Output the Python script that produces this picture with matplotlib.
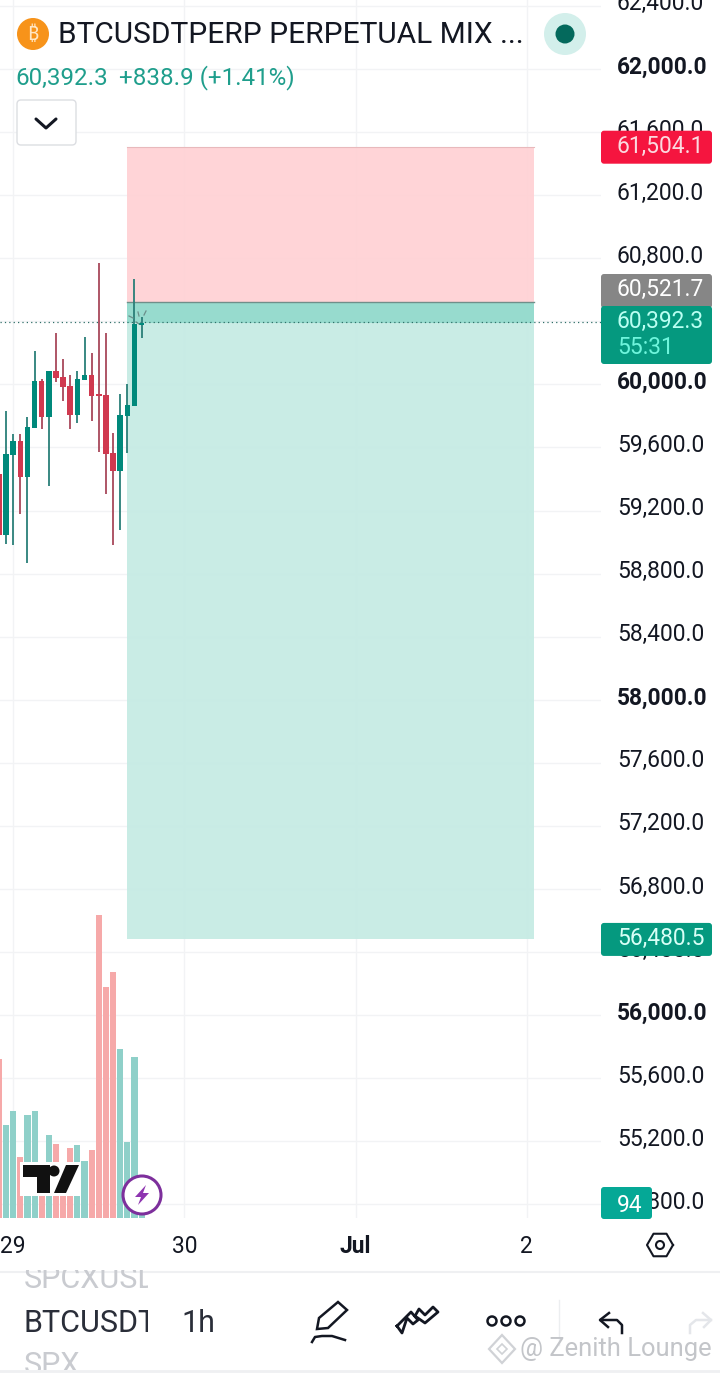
import numpy as np
import matplotlib
matplotlib.use('Agg')
import matplotlib.pyplot as plt
from matplotlib.patches import Circle, FancyBboxPatch, Rectangle, Polygon

plt.rcParams['font.family'] = ['Roboto', 'DejaVu Sans']

# hourly candles
opens = [59432, 59045, 59552, 59641, 59415, 59726, 60022, 59793, 60085, 60047, 59990,
         59806, 60028, 60060, 59933, 59933, 59565, 59451, 59800, 59863, 60379]
highs = [59449, 59833, 59685, 59685, 59795, 60214, 60034, 60085, 60328, 60161, 60060,
         60085, 60303, 60201, 60772, 60328, 59694, 59939, 60002, 60668, 60427]
lows = [59020, 58988, 58982, 59178, 58869, 59726, 59717, 59356, 60017, 59895, 59717,
        59755, 60028, 59768, 59571, 59305, 58982, 59077, 59565, 59863, 60294]
closes = [59045, 59559, 59641, 59415, 59730, 60022, 59793, 60085, 60041, 59983, 59806,
          60034, 60060, 59926, 59929, 59559, 59451, 59806, 59869, 60383, 60392.3]
volumes = [995, 581, 669, 381, 644, 669, 220, 518, 462, 190, 437,
           456, 355, 424, 1898, 1446, 1540, 1058, 475, 1008, 94]

price_ticks = [62400, 62000, 61600, 61200, 60800, 60400, 60000, 59600, 59200, 58800, 58400, 58000,
               57600, 57200, 56800, 56400, 56000, 55600, 55200, 54800]
date_pos = [2, 26, 50, 74]
date_labels = ['29', '30', 'Jul', '2']

stop_price = 61504.1
entry_price = 60521.7
last_price = 60392.3
target_price = 56480.5
pos_start, pos_end = 18, 75

GREEN = '#00897b'
RED = '#d0394f'
SCALE = 0.1577  # px per price unit
LABEL_SIZE = 16.4


def py(price):
    return 69 + (62000 - price) * SCALE


fig = plt.figure(figsize=(7.2, 13.73), dpi=100, facecolor='white')
ax = fig.add_axes([0, 1 - 1218 / 1373, 601 / 720, 1218 / 1373])
ax.set_xlim(0.154, 84.4)
ax.set_ylim(62000 - (1218 - 69) / SCALE, 62000 + 69 / SCALE)
for s in ax.spines.values():
    s.set_visible(False)
ax.set_yticks(price_ticks)
ax.set_yticklabels([])
ax.set_xticks(date_pos, date_labels, fontsize=LABEL_SIZE, color='#131722')
ax.get_xticklabels()[2].set_fontweight('bold')
ax.tick_params(length=0, pad=12)
ax.grid(color='#f2f3f5', lw=1)
ax.set_axisbelow(True)

# position tool
ax.add_patch(Rectangle((pos_start, entry_price), pos_end - pos_start, stop_price - entry_price,
                       fc='#ffd2d5', ec='none', zorder=1.5, alpha=0.95))
ax.add_patch(Rectangle((pos_start, target_price), pos_end - pos_start, entry_price - target_price,
                       fc='#c6ebe4', ec='none', zorder=1.5, alpha=0.95))
ax.add_patch(Rectangle((pos_start, last_price), pos_end - pos_start, entry_price - last_price,
                       fc='#97dbce', ec='none', zorder=1.6))
ax.plot([pos_start, pos_end], [entry_price, entry_price], color='#6f8f8a', lw=1, zorder=1.7)
ax.plot([pos_start, pos_end], [stop_price, stop_price], color='#e8b9bc', lw=0.8, zorder=1.7)
ax.axhline(last_price + 4, color='#2f6f68', lw=0.9, ls=(0, (1, 2.5)), zorder=1.8)

# candles
idx = np.arange(len(opens))
o, c = np.array(opens), np.array(closes)
cols = [GREEN if b >= a else RED for a, b in zip(o, c)]
wick_cols = ['#2a7f78' if b >= a else '#a8485a' for a, b in zip(o, c)]
ax.vlines(idx, lows, highs, colors=wick_cols, lw=1.3, zorder=3)
ax.bar(idx, np.maximum(np.abs(c - o), 8), bottom=np.minimum(o, c), width=0.78, color=cols, zorder=4)

# volume shares the x range, own hidden scale
vol = ax.twinx()
vol.set_ylim(0, 1218 * 6.27)
vol.set_yticks([])
vol.patch.set_visible(False)
for s in vol.spines.values():
    s.set_visible(False)
vol.bar(idx, volumes, width=0.86, color=['#8fd0c9' if b >= a else '#f6a9a9' for a, b in zip(o, c)])

# price scale labels
for p in price_ticks:
    ax.annotate('{:,.1f}'.format(p), xy=(1, p), xycoords=ax.get_yaxis_transform(), xytext=(16, 2),
                textcoords='offset pixels', va='center', ha='left', fontsize=LABEL_SIZE, color='#131722',
                fontweight='bold' if p % 2000 == 0 else 'normal', annotation_clip=False)

# everything below is app chrome, in screen pixels
ov = fig.add_axes([0, 0, 1, 1], zorder=10)
ov.set_xlim(0, 720)
ov.set_ylim(1373, 0)
ov.axis('off')


def tag(x0, x1, y0, y1, color):
    ov.add_patch(FancyBboxPatch((x0 + 2, y0 + 2), x1 - x0 - 4, y1 - y0 - 4, boxstyle='round,pad=2,rounding_size=3',
                                fc=color, ec='none'))


tag(601, 712, py(stop_price) - 16.5, py(stop_price) + 16.5, '#f5153f')
ov.text(617, py(stop_price) - 0.5, '61,504.1', color='#fbd9df', fontsize=LABEL_SIZE, va='center')
tag(601, 712, 274, 308, '#868686')
ov.text(617, 289, '60,521.7', color='white', fontsize=LABEL_SIZE, va='center')
tag(601, 712, 306, 364, '#05997f')
ov.text(617, 321, '60,392.3', color='#b9fff2', fontsize=LABEL_SIZE, va='center')
ov.text(617, 347, '55:31', color='#6ff5dc', fontsize=LABEL_SIZE, va='center')
tag(601, 712, py(target_price) - 16.5, py(target_price) + 16.5, '#05997f')
ov.text(617, py(target_price) - 0.5, '56,480.5', color='#d8fff6', fontsize=LABEL_SIZE, va='center')
tag(601, 652, 1187, 1219, '#05a896')
ov.text(630, 1205, '94', color='white', fontsize=LABEL_SIZE, va='center', ha='center')

# header
ov.add_patch(Circle((33, 34), 16, fc='#f7931a', ec='none'))
ov.text(33, 35, '\u20bf', color='#ffe6c4', fontsize=14, ha='center', va='center', fontweight='bold',
        family=['Noto Sans', 'Open Sans', 'Inter', 'Lato', 'Liberation Sans', 'Noto Sans CJK SC'])
ov.text(58, 35, 'BTCUSDTPERP PERPETUAL MIX ...', color='#131722', fontsize=21.5, va='center')
ov.text(15, 78, '60,392.3', color='#1f9e8c', fontsize=17.4, va='center')
ov.text(119, 78, '+838.9 (+1.41%)', color='#1f9e8c', fontsize=17.4, va='center')
ov.add_patch(Circle((565, 34), 21, fc='#d3efeb', ec='none'))
ov.add_patch(Circle((565, 34), 9.5, fc='#04695c', ec='none'))
ov.add_patch(FancyBboxPatch((20, 103), 53, 39, boxstyle='round,pad=3,rounding_size=4', fc='white', ec='#dcdee2', lw=1))
ov.plot([36, 46, 56], [119, 128, 119], color='#131722', lw=2.2, solid_capstyle='round')

# small marks round the live candle
for xa, ya, xb, yb in [(129, 316, 133, 318), (138, 312, 139, 316), (146, 311, 144, 315), (136, 322, 139, 324)]:
    ov.plot([xa, xb], [ya, yb], color='#6b8f8a', lw=0.9)

# TradingView badge
ov.add_patch(Rectangle((20, 1162), 61, 34, fc='white', ec='none'))
ov.add_patch(Polygon([(23, 1165), (50, 1165), (50, 1193), (37, 1193), (37, 1177), (23, 1177)], fc='#111111'))
ov.add_patch(Circle((54, 1171), 5.5, fc='#111111', ec='none'))
ov.add_patch(Polygon([(66, 1165), (79, 1165), (66, 1193), (54, 1193)], fc='#111111'))
ov.add_patch(Circle((142, 1195), 19, fc='white', ec='#7d2f9c', lw=2.2))
ov.add_patch(Polygon([(146, 1185), (135, 1197), (141, 1197), (138, 1205), (149, 1193), (143, 1193)], fc='#8e35b0'))

# time axis settings icon
ang = np.deg2rad(np.arange(0, 361, 60))
ov.plot(660 + 13 * np.cos(ang), 1245 + 13 * np.sin(ang), color='#131722', lw=1.5)
ov.add_patch(Circle((660, 1245), 4, fc='none', ec='#131722', lw=1.5))

# bottom toolbar
ov.plot([0, 720], [1272, 1272], color='#eff0f2', lw=1.5)
ov.plot([0, 720], [1371, 1371], color='#eff0f2', lw=2)
clip1 = Rectangle((0, 1270), 148, 100, transform=ov.transData)
for txt, y, col in [('SPCXUSDT', 1280, '#c9cbd0'), ('BTCUSDT', 1323, '#2a2e39'), ('SPX', 1365, '#c9cbd0')]:
    t = ov.text(24, y, txt, color=col, fontsize=22, va='center')
    t.set_clip_on(True)
    t.set_clip_path(clip1)
ov.text(181, 1323, '1h', color='#2a2e39', fontsize=22, va='center')

# pencil
ov.add_patch(Polygon([(317, 1329), (319, 1318), (338, 1302), (347, 1310), (328, 1328)],
                     fc='white', ec='#131722', lw=1.8))
ov.plot([312, 315, 322, 332, 345], [1342, 1337, 1336, 1336, 1340], color='#131722', lw=1.8)
# trend lines
ov.plot([397, 411, 418, 413, 407, 402, 397], [1326, 1312, 1320, 1324, 1318, 1333, 1326], color='#131722', lw=2)
ov.plot([415, 425, 438, 433, 425, 419, 415], [1316, 1323, 1312, 1307, 1315, 1309, 1316], color='#131722', lw=2)
for xc in [492, 506, 520]:
    ov.add_patch(Circle((xc, 1321), 4.5, fc='white', ec='#131722', lw=1.8))
ov.plot([559, 559], [1300, 1345], color='#eceef0', lw=1)
# undo, redo
ov.plot([622, 622, 617, 601], [1333, 1325, 1320, 1320], color='#131722', lw=1.8)
ov.plot([609, 600, 608], [1313, 1320, 1327], color='#131722', lw=1.8)
ov.plot([690, 690, 696, 711], [1333, 1325, 1320, 1320], color='#e4e6ea', lw=1.8)
ov.plot([703, 711, 704], [1313, 1320, 1327], color='#e4e6ea', lw=1.8)

# watermark
ov.add_patch(Polygon([(502, 1335), (515, 1349), (502, 1363), (489, 1349)], fc='none', ec='#d0d2d6', lw=1.6))
ov.add_patch(Polygon([(502, 1344), (507, 1349), (502, 1354), (497, 1349)], fc='none', ec='#d0d2d6', lw=1.2))
ov.text(520, 1349, '@ Zenith Lounge', color='#c3c5c9', fontsize=18.4, va='center')

fig.savefig('out.png', dpi=100)
